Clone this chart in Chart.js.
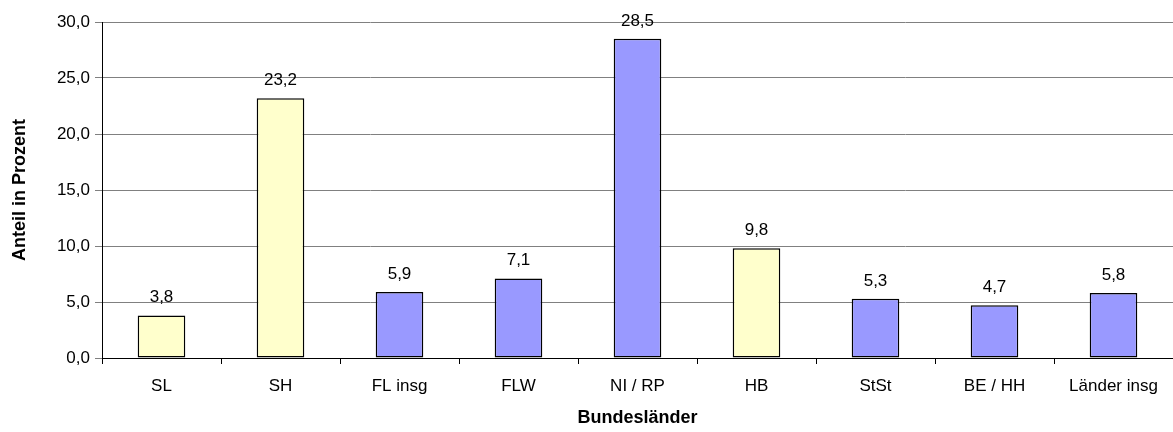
<!DOCTYPE html>
<html>
<head>
<meta charset="utf-8">
<script src="https://cdn.jsdelivr.net/npm/chart.js@4"></script>
<style>
  html, body { margin: 0; padding: 0; background: #fff; }
  #wrap { width: 1173px; height: 432px; }
</style>
</head>
<body>
<div id="wrap"><canvas id="myChart" width="1173" height="432"></canvas></div>
<script>
const laender = ['SL', 'SH', 'FL insg', 'FLW', 'NI / RP', 'HB', 'StSt', 'BE / HH', 'Länder insg'];
const anteil = [3.8, 23.2, 5.9, 7.1, 28.5, 9.8, 5.3, 4.7, 5.8];
const barColors = ['#FFFFCC', '#FFFFCC', '#9999FF', '#9999FF', '#9999FF', '#FFFFCC', '#9999FF', '#9999FF', '#9999FF'];
const yTicks = [0, 5, 10, 15, 20, 25, 30];

const fmt = (v) => v.toFixed(1).replace('.', ',');

// draws the value above each bar
const valueLabels = {
  id: 'valueLabels',
  afterDatasetsDraw(chart) {
    const ctx = chart.ctx;
    const meta = chart.getDatasetMeta(0);
    ctx.save();
    ctx.font = '17px "Liberation Sans", Arial, sans-serif';
    ctx.fillStyle = '#000';
    ctx.textAlign = 'center';
    ctx.textBaseline = 'alphabetic';
    meta.data.forEach((bar, i) => {
      ctx.fillText(fmt(anteil[i]), bar.x, bar.y - 13);
    });
    ctx.restore();
  }
};

Chart.defaults.font.family = '"Liberation Sans", Arial, sans-serif';
Chart.defaults.color = '#000';

new Chart(document.getElementById('myChart'), {
  type: 'bar',
  data: {
    labels: laender,
    datasets: [{
      data: anteil,
      backgroundColor: barColors,
      borderColor: '#000',
      borderWidth: 1.5,
      borderSkipped: false,
      categoryPercentage: 1,
      barPercentage: 0.4,
    }],
  },
  options: {
    responsive: false,
    animation: false,
    layout: { padding: { top: 22, right: 0, left: 0, bottom: 0 } },
    plugins: {
      legend: { display: false },
      tooltip: { enabled: false },
    },
    scales: {
      x: {
        offset: true,
        grid: {
          offset: true,
          drawOnChartArea: false,
          drawTicks: true,
          tickLength: 6,
          color: '#000',
        },
        border: { display: true, color: '#000', width: 1 },
        ticks: { font: { size: 17 }, padding: 12, maxRotation: 0 },
        title: {
          display: true,
          text: 'Bundesländer',
          font: { size: 18, weight: 'bold' },
          padding: { top: 2, bottom: 3 },
        },
        afterFit(scale) { scale.height = 74; },
      },
      y: {
        min: 0,
        max: 30,
        afterBuildTicks(scale) { scale.ticks = yTicks.map((v) => ({ value: v })); },
        grid: {
          color: '#808080',
          lineWidth: 1,
          drawTicks: true,
          tickLength: 7,
        },
        border: { display: true, color: '#000', width: 1 },
        ticks: {
          font: { size: 17 },
          padding: 5,
          callback: (v) => fmt(v),
        },
        title: {
          display: true,
          text: 'Anteil in Prozent',
          font: { size: 18, weight: 'bold' },
          padding: { top: 9, bottom: 10 },
        },
        afterFit(scale) { scale.width = 102; },
      },
    },
  },
  plugins: [valueLabels],
});
</script>
</body>
</html>
